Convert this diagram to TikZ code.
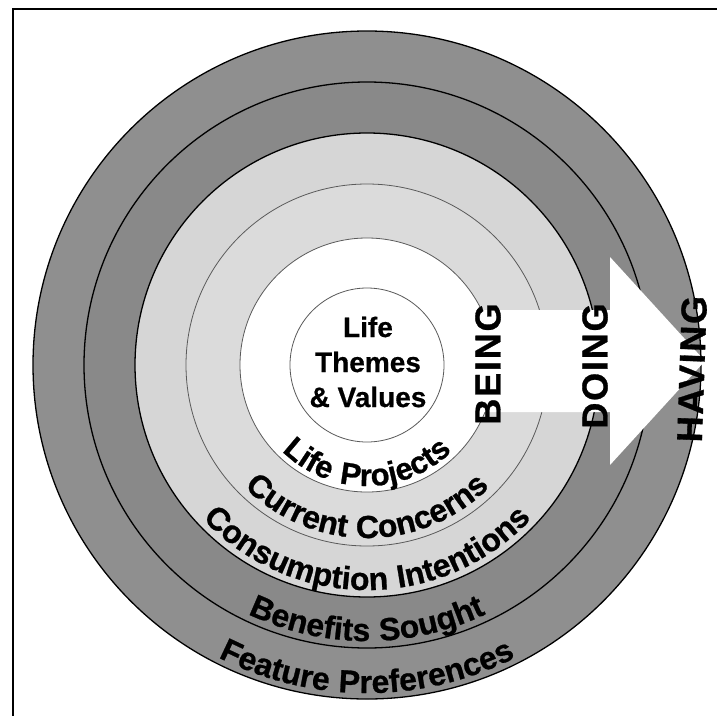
\documentclass[tikz,border=0pt]{standalone}
\usepackage{fontspec}
\setmainfont{Liberation Sans}[FakeBold=0.6]
\newfontfamily\ringfont[LetterSpace=3,FakeBold=0.8]{Liberation Sans}
\newfontfamily\wideringfont[LetterSpace=8,FakeBold=0.8]{Liberation Sans}
\newfontfamily\wordfont[LetterSpace=5,FakeBold=0.8]{Liberation Sans}
\usetikzlibrary{decorations.text}

\definecolor{outerring}{HTML}{8F8F8F}
\definecolor{secondring}{HTML}{898989}
\definecolor{thirdring}{HTML}{D6D6D6}
\definecolor{fourthring}{HTML}{DBDBDB}
\definecolor{thinline}{HTML}{5A5A5A}

\tikzset{
  boldline/.style={draw=black, line width=1.3pt},
  lightline/.style={draw=thinline, line width=0.8pt},
  ringlabel/.style={decorate, decoration={text along path, text align=center,
      text={|\ringfont\bfseries\fontsize{32}{36}\selectfont|#1}}},
  wideringlabel/.style={decorate, decoration={text along path, text align=center,
      text={|\wideringfont\bfseries\fontsize{31}{36}\selectfont|#1}}},
  bigword/.style={font=\wordfont\bfseries\fontsize{36}{40}\selectfont, inner sep=0pt, rotate=90},
}

\begin{document}
\begin{tikzpicture}[x=1pt, y=1pt]
\useasboundingbox (0,0) rectangle (717,-715);

% frame on the left and top edges
\draw[line width=2pt] (13,-717) -- (13,-9) -- (719,-9);

\coordinate (c) at (367,-365);

% filled rings, outermost first
\fill[outerring]   (c) circle[radius=334];
\fill[secondring]  (c) circle[radius=283];
\fill[thirdring]   (c) circle[radius=232];
\fill[fourthring]  (c) circle[radius=181];
\fill[white]       (c) circle[radius=127];

% ring boundaries
\draw[boldline]  (c) circle[radius=334];
\draw[boldline]  (c) circle[radius=283];
\draw[boldline]  (c) circle[radius=232];
\draw[lightline] (c) circle[radius=181];
\draw[lightline] (c) circle[radius=127];
\draw[lightline] (c) circle[radius=77];

% white arrow pointing outwards
\fill[white] (450,-310) -- (610,-310) -- (610,-257) -- (705,-361)
  -- (610,-465) -- (610,-412) -- (450,-412) -- cycle;

% centre text
\node[align=center, font=\bfseries\fontsize{28}{35}\selectfont, inner sep=0pt]
  (core) at (368,-362) {Life\\Themes\\\& Values};

% ring labels along the lower arcs
\begin{scope}[shift={(c)}]
  \path[wideringlabel={Life Projects}]      (200:121) arc[start angle=200, end angle=340, radius=121];
  \path[ringlabel={Current Concerns}]       (200:173) arc[start angle=200, end angle=340, radius=173];
  \path[ringlabel={Consumption Intentions}] (200:225) arc[start angle=200, end angle=340, radius=225];
  \path[ringlabel={Benefits Sought}]        (200:276) arc[start angle=200, end angle=340, radius=276];
  \path[ringlabel={Feature Preferences}]    (200:328) arc[start angle=200, end angle=340, radius=328];
\end{scope}

% words along the arrow
\node[bigword] (being)  at (488,-364) {BEING};
\node[bigword] (doing)  at (595,-366) {DOING};
\node[bigword, rotate=-2] (having) at (692,-369) {HAVING};
\end{tikzpicture}
\end{document}
